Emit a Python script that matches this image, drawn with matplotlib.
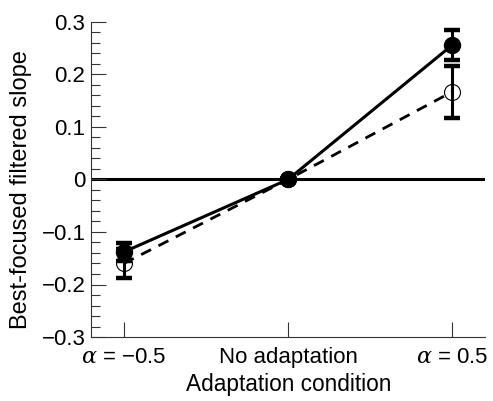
import matplotlib
matplotlib.use("Agg")
import matplotlib.pyplot as plt
from matplotlib.ticker import MultipleLocator

plt.rcParams['font.family'] = ['Liberation Sans', 'DejaVu Sans']
plt.rcParams['mathtext.fontset'] = 'dejavuserif'

# data
conditions = [-0.5, 0.0, 0.5]
tick_labels = ['$\\alpha$ = \u22120.5', 'No adaptation', '$\\alpha$ = 0.5']
filled_y = [-0.138, 0.0, 0.256]
filled_err = [0.017, 0.0, 0.028]
open_y = [-0.160, 0.0, 0.167]
open_err = [0.027, 0.0, 0.050]

fig = plt.figure(figsize=(4.93, 4.01), dpi=100)
ax = fig.add_axes([91/493, 1-337/401, 394/493, 315/401])

ax.axhline(0, color='black', lw=2.2, zorder=1)

ax.errorbar(conditions, open_y, yerr=open_err, fmt='none', ecolor='black',
            elinewidth=2.2, capsize=5.5, capthick=3.2, zorder=2)
ax.plot(conditions, open_y, color='black', lw=2.0, ls=(0, (4, 3)), zorder=2)
ax.plot(conditions, open_y, 'o', mfc='none', mec='black', mew=0.8, ms=11.5, zorder=3)

ax.errorbar(conditions, filled_y, yerr=filled_err, fmt='none', ecolor='black',
            elinewidth=2.2, capsize=5.5, capthick=3.2, zorder=4)
ax.plot(conditions, filled_y, color='black', lw=2.2, zorder=4)
ax.plot(conditions, filled_y, 'o', color='black', ms=11.5, zorder=5)

ax.set_xlim(-0.6, 0.6)
ax.set_ylim(-0.3, 0.3)
ax.set_xticks(conditions)
ax.set_xticklabels(tick_labels)
ax.set_yticks([-0.3, -0.2, -0.1, 0, 0.1, 0.2, 0.3])
ax.set_yticklabels(['\u22120.3', '\u22120.2', '\u22120.1', '0', '0.1', '0.2', '0.3'])
ax.yaxis.set_minor_locator(MultipleLocator(0.02))

for s in ['top', 'right']:
    ax.spines[s].set_visible(False)
for s in ['left', 'bottom']:
    ax.spines[s].set_linewidth(0.8)
    ax.spines[s].set_color('#333333')

ax.tick_params(axis='both', which='major', direction='in', length=10.8, width=0.8,
               color='#333333', labelsize=16)
ax.tick_params(axis='x', pad=7)
ax.tick_params(axis='y', pad=4)
ax.tick_params(axis='y', which='minor', direction='in', length=6.5, width=0.8, color='#333333')

ax.set_xlabel('Adaptation condition', fontsize=16.3)
ax.set_ylabel('Best-focused filtered slope', fontsize=17)
ax.xaxis.set_label_coords(0.5025, -0.114)
ax.yaxis.set_label_coords(-0.150, 0.467)

fig.savefig('out.png', dpi=100)
